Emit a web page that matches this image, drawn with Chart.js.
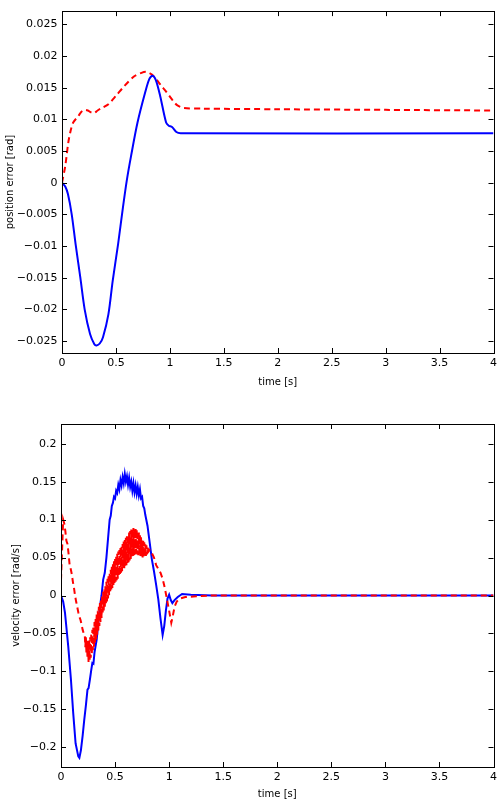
<!DOCTYPE html>
<html>
<head>
<meta charset="utf-8">
<script src="https://cdn.jsdelivr.net/npm/chart.js@4.4.1/dist/chart.umd.min.js"></script>
<style>
  html, body { margin: 0; padding: 0; background: #fff; }
  canvas { display: block; }
</style>
</head>
<body>
<canvas id="pos" width="501" height="400"></canvas>
<canvas id="vel" width="501" height="406"></canvas>
<script>
// ---- data ----
const xTicks = [0, 0.5, 1, 1.5, 2, 2.5, 3, 3.5, 4];
const posTicks = [-0.025, -0.02, -0.015, -0.01, -0.005, 0, 0.005, 0.01, 0.015, 0.02, 0.025];
const velTicks = [-0.2, -0.15, -0.1, -0.05, 0, 0.05, 0.1, 0.15, 0.2];

// position error, blue solid
const posBlueT = [0, 0.03, 0.055, 0.09, 0.126, 0.17, 0.21, 0.26, 0.30, 0.32, 0.35, 0.38, 0.43, 0.47, 0.52, 0.565, 0.60, 0.64, 0.70, 0.77, 0.81, 0.84, 0.87, 0.91, 0.965, 0.99, 1.02, 1.06, 1.1, 4];
const posBlue = [0, -0.0006, -0.0018, -0.005, -0.0097, -0.015, -0.020, -0.0239, -0.0255, -0.0257, -0.0254, -0.0244, -0.0208, -0.0155, -0.0097, -0.0039, 0.0003, 0.0042, 0.0095, 0.0142, 0.0164, 0.0169, 0.0162, 0.0137, 0.0095, 0.0090, 0.0088, 0.0080, 0.0078, 0.0078];

// position error, red dashed
const posRedT = [0, 0.03, 0.058, 0.08, 0.104, 0.15, 0.18, 0.21, 0.24, 0.27, 0.30, 0.33, 0.37, 0.43, 0.50, 0.58, 0.67, 0.73, 0.78, 0.83, 0.88, 0.92, 0.96, 1.0, 1.04, 1.07, 1.13, 1.3, 2, 3, 4];
const posRed = [0, 0.0026, 0.0063, 0.0082, 0.0095, 0.0105, 0.0112, 0.0115, 0.0114, 0.0111, 0.0110, 0.0114, 0.0118, 0.0124, 0.0137, 0.0153, 0.0168, 0.0173, 0.0175, 0.0171, 0.0162, 0.0153, 0.0145, 0.0136, 0.0127, 0.0122, 0.0118, 0.0117, 0.0116, 0.0115, 0.0114];

// velocity error, blue solid
const velBlueT = [0, 0.02, 0.037, 0.067, 0.092, 0.113, 0.135, 0.16, 0.17, 0.184, 0.2, 0.215, 0.23, 0.245, 0.255, 0.267, 0.28, 0.29, 0.30, 0.31, 0.33, 0.345, 0.36, 0.375, 0.39, 0.405, 0.42, 0.435, 0.45, 0.46, 0.47, 0.48, 0.49, 0.50, 0.51, 0.52, 0.53, 0.54, 0.55, 0.56, 0.57, 0.58, 0.59, 0.60, 0.61, 0.62, 0.63, 0.64, 0.65, 0.66, 0.67, 0.68, 0.69, 0.70, 0.71, 0.72, 0.73, 0.74, 0.75, 0.76, 0.77, 0.78, 0.80, 0.82, 0.84, 0.86, 0.88, 0.90, 0.92, 0.94, 0.955, 0.97, 0.985, 1.0, 1.015, 1.03, 1.05, 1.08, 1.12, 1.2, 1.4, 4];
const velBlue = [0, -0.008, -0.023, -0.067, -0.111, -0.155, -0.195, -0.212, -0.214, -0.204, -0.185, -0.164, -0.145, -0.124, -0.122, -0.111, -0.098, -0.089, -0.090, -0.075, -0.058, -0.035, -0.015, 0.0, 0.021, 0.030, 0.05, 0.075, 0.10, 0.105, 0.118, 0.122, 0.130, 0.128, 0.138, 0.135, 0.146, 0.14, 0.152, 0.145, 0.156, 0.148, 0.160, 0.15, 0.157, 0.146, 0.155, 0.143, 0.150, 0.138, 0.148, 0.136, 0.145, 0.134, 0.143, 0.132, 0.140, 0.128, 0.130, 0.118, 0.115, 0.106, 0.092, 0.070, 0.048, 0.032, 0.014, -0.005, -0.030, -0.052, -0.040, -0.020, -0.004, 0.001, -0.006, -0.010, -0.006, -0.002, 0.002, 0.001, 0.0, 0];

// velocity error, red dashed
const velRedT = [
  0, 0.01, 0.02, 0.03, 0.04, 0.05, 0.06, 0.07, 0.08, 0.09, 0.10,
  0.11, 0.12, 0.13, 0.14, 0.15, 0.16, 0.17, 0.18, 0.19, 0.20, 0.21,
  0.220, 0.225, 0.230, 0.235, 0.240, 0.245, 0.250, 0.255, 0.260, 0.265,
  0.270, 0.275, 0.280, 0.285, 0.290, 0.295, 0.300, 0.305, 0.310, 0.315,
  0.320, 0.325, 0.330, 0.335, 0.340, 0.345, 0.350, 0.355, 0.360, 0.365,
  0.370, 0.375, 0.380, 0.385, 0.390, 0.395, 0.400, 0.405, 0.410, 0.415,
  0.420, 0.425, 0.430, 0.435, 0.440, 0.445, 0.450, 0.455, 0.460, 0.465,
  0.470, 0.475, 0.480, 0.485, 0.490, 0.495, 0.500, 0.505, 0.510, 0.515,
  0.520, 0.525, 0.530, 0.535, 0.540, 0.545, 0.550, 0.555, 0.560, 0.565,
  0.570, 0.575, 0.580, 0.585, 0.590, 0.595, 0.600, 0.605, 0.610, 0.615,
  0.620, 0.625, 0.630, 0.635, 0.640, 0.645, 0.650, 0.655, 0.660, 0.665,
  0.670, 0.675, 0.680, 0.685, 0.690, 0.695, 0.700, 0.705, 0.710, 0.715,
  0.720, 0.725, 0.730, 0.735, 0.740, 0.745, 0.750, 0.755, 0.760, 0.765,
  0.770, 0.775, 0.780, 0.785, 0.790, 0.795, 0.800,
  0.81, 0.82, 0.84, 0.86, 0.88, 0.90, 0.92, 0.94, 0.96, 0.98,
  1.0, 1.02, 1.03, 1.05, 1.07, 1.10, 1.15, 1.25, 1.4, 4
];
const velRed = [
  0.02, 0.06, 0.100, 0.095, 0.085, 0.072, 0.068, 0.055, 0.040, 0.035, 0.028,
  0.018, 0.010, 0.0, -0.008, -0.015, -0.022, -0.028, -0.032, -0.038, -0.045, -0.05,
  -0.052, -0.068, -0.055, -0.075, -0.058, -0.083, -0.060, -0.088, -0.058, -0.085,
  -0.055, -0.082, -0.050, -0.078, -0.045, -0.072, -0.040, -0.068, -0.035, -0.062,
  -0.030, -0.058, -0.025, -0.052, -0.020, -0.046, -0.015, -0.040, -0.010, -0.035,
  -0.005, -0.030, 0.000, -0.025, 0.005, -0.020, 0.008, -0.016, 0.012, -0.012,
  0.018, -0.008, 0.022, -0.004, 0.026, 0.000, 0.030, 0.004, 0.034, 0.008,
  0.038, 0.010, 0.042, 0.014, 0.045, 0.016, 0.048, 0.018, 0.052, 0.020,
  0.055, 0.022, 0.058, 0.025, 0.060, 0.027, 0.063, 0.030, 0.066, 0.032,
  0.068, 0.034, 0.071, 0.036, 0.073, 0.038, 0.076, 0.040, 0.078, 0.042,
  0.080, 0.044, 0.083, 0.046, 0.085, 0.048, 0.087, 0.050, 0.088, 0.052,
  0.089, 0.053, 0.088, 0.054, 0.089, 0.055, 0.087, 0.054, 0.085, 0.053,
  0.083, 0.052, 0.080, 0.052, 0.077, 0.051, 0.074, 0.050, 0.072, 0.050,
  0.070, 0.052, 0.068, 0.052, 0.066, 0.054, 0.064,
  0.058, 0.060, 0.056, 0.05, 0.040, 0.035, 0.030, 0.022, 0.010, -0.005,
  -0.02, -0.036, -0.030, -0.015, -0.008, -0.004, -0.002, -0.001, 0, 0
];

const BLUE = '#0000ff';
const RED = '#ff0000';
const FONT = 'DejaVu Sans';

function pts(ts, vs) {
  return ts.map((t, i) => ({ x: t, y: vs[i] }));
}

function fmt(v) {
  const s = String(Number(v.toFixed(3)));
  return s.replace('-', '\u2212');
}

// matplotlib-like box with inward ticks on all four sides
const frame = {
  id: 'frame',
  afterDatasetsDraw(chart) {
    const c = chart.ctx;
    const a = chart.chartArea;
    const xs = chart.scales.x, ys = chart.scales.y;
    c.save();
    c.strokeStyle = '#000';
    c.lineWidth = 1;
    c.strokeRect(Math.round(a.left) + 0.5, Math.round(a.top) + 0.5,
      Math.round(a.right - a.left), Math.round(a.bottom - a.top));
    c.beginPath();
    xs.ticks.forEach(t => {
      const px = Math.round(xs.getPixelForValue(t.value)) + 0.5;
      c.moveTo(px, a.bottom); c.lineTo(px, a.bottom - 5);
      c.moveTo(px, a.top); c.lineTo(px, a.top + 5);
    });
    ys.ticks.forEach(t => {
      const py = Math.round(ys.getPixelForValue(t.value)) + 0.5;
      c.moveTo(a.left, py); c.lineTo(a.left + 5, py);
      c.moveTo(a.right, py); c.lineTo(a.right - 5, py);
    });
    c.stroke();
    c.restore();
  }
};

function makeChart(id, cfg) {
  return new Chart(document.getElementById(id), {
    type: 'line',
    data: {
      datasets: [
        {
          data: pts(cfg.redT, cfg.red),
          borderColor: RED,
          borderWidth: 2,
          borderDash: [6, 4],
          pointRadius: 0,
          tension: cfg.tension,
          order: cfg.redOrder
        },
        {
          data: pts(cfg.blueT, cfg.blue),
          borderColor: BLUE,
          borderWidth: 2,
          pointRadius: 0,
          tension: cfg.tension,
          order: cfg.blueOrder
        }
      ]
    },
    options: {
      responsive: false,
      animation: false,
      devicePixelRatio: 1,
      layout: { padding: { top: cfg.padTop, right: cfg.padRight, left: 0, bottom: 0 } },
      plugins: { legend: { display: false }, tooltip: { enabled: false } },
      scales: {
        x: {
          type: 'linear',
          min: 0,
          max: 4,
          afterBuildTicks: s => { s.ticks = xTicks.map(v => ({ value: v })); },
          afterFit: s => { s.height = cfg.xHeight; },
          grid: { display: false, drawTicks: false },
          border: { display: false },
          ticks: {
            color: '#000',
            padding: 4,
            maxRotation: 0,
            font: { family: FONT, size: 11 },
            callback: v => fmt(v)
          },
          title: {
            display: true,
            text: 'time [s]',
            color: '#000',
            font: { family: FONT, size: 10 },
            padding: { top: 0, bottom: cfg.xTitlePad }
          }
        },
        y: {
          type: 'linear',
          min: cfg.yMin,
          max: cfg.yMax,
          afterBuildTicks: s => { s.ticks = cfg.yTicks.map(v => ({ value: v })); },
          afterFit: s => { s.width = cfg.yWidth; },
          grid: { display: false, drawTicks: false },
          border: { display: false },
          ticks: {
            color: '#000',
            padding: 4.5,
            font: { family: FONT, size: 11 },
            callback: v => fmt(v)
          },
          title: {
            display: true,
            text: cfg.yTitle,
            color: '#000',
            font: { family: FONT, size: 10 },
            padding: { top: cfg.yTitlePad, bottom: 0 }
          }
        }
      }
    },
    plugins: [frame]
  });
}

makeChart('pos', {
  redT: posRedT, red: posRed, blueT: posBlueT, blue: posBlue,
  tension: 0.3, redOrder: 2, blueOrder: 1,
  padTop: 10, padRight: 4, xHeight: 47, xTitlePad: 12, yWidth: 62,
  yMin: -0.0269, yMax: 0.0271, yTicks: posTicks,
  yTitle: 'position error [rad]', yTitlePad: 4
});

makeChart('vel', {
  redT: velRedT, red: velRed, blueT: velBlueT, blue: velBlue,
  tension: 0, redOrder: 1, blueOrder: 2,
  padTop: 24, padRight: 5, xHeight: 39, xTitlePad: 6, yWidth: 61,
  yMin: -0.226, yMax: 0.226, yTicks: velTicks,
  yTitle: 'velocity error [rad/s]', yTitlePad: 10
});
</script>
</body>
</html>
